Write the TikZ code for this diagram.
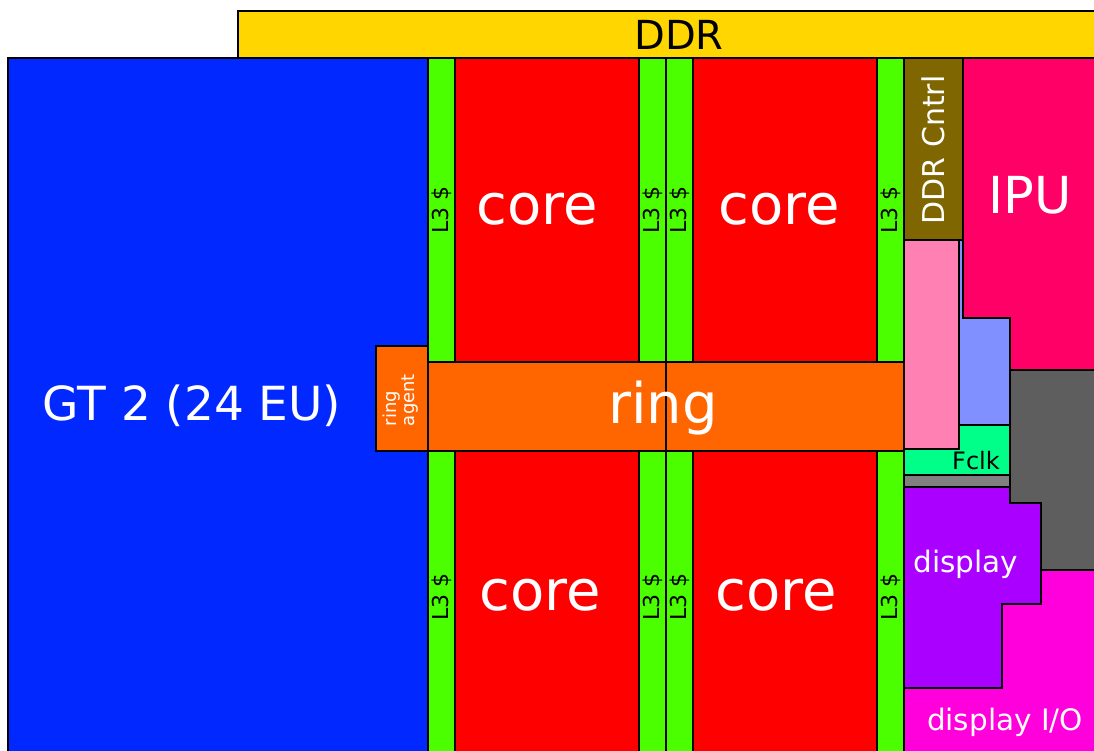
\documentclass[tikz,border=0pt]{standalone}
\usepackage{fontspec}
\setmainfont{DejaVu Sans}
\usepackage{xcolor}
\usepackage{tikz}

\definecolor{gtblue}{RGB}{0,40,255}
\definecolor{lthreegreen}{RGB}{76,255,0}
\definecolor{corered}{RGB}{255,0,0}
\definecolor{ringorange}{RGB}{255,102,0}
\definecolor{ddryellow}{RGB}{255,214,0}
\definecolor{ctrlbrown}{RGB}{128,102,0}
\definecolor{ipured}{RGB}{255,0,102}
\definecolor{pinkblk}{RGB}{255,128,178}
\definecolor{lavblk}{RGB}{128,144,255}
\definecolor{fclkgreen}{RGB}{0,255,136}
\definecolor{midgray}{RGB}{128,128,128}
\definecolor{darkgray}{RGB}{94,94,94}
\definecolor{dispurple}{RGB}{170,0,255}
\definecolor{iomagenta}{RGB}{255,0,221}

\begin{document}
\begin{tikzpicture}[
    x=1pt, y=-1pt,
    %% Die blocks
    blk/.style   = {draw=black, line width=2pt},
    gtblk/.style = {blk, fill=gtblue},
    l3blk/.style = {blk, fill=lthreegreen},
    coreblk/.style = {blk, fill=corered},
    ringblk/.style = {blk, fill=ringorange},
    %% Labels
    lbl/.style   = {inner sep=0pt, text=white},
    bigtxt/.style = {lbl, font=\fontsize{56}{56}\selectfont},
    l3txt/.style = {inner sep=0pt, rotate=90, font=\fontsize{22}{22}\selectfont},
  ]
  \useasboundingbox (0,0) rectangle (1094,751);
  \clip (0,0) rectangle (1094,751);

  %% ── Memory bus and graphics ───────────────────────────────────────────
  \filldraw[blk, fill=ddryellow] (238,11) rectangle (1110,58);
  \filldraw[gtblk] (8,58) rectangle (428,770);

  %% ── L3 slices and cores ───────────────────────────────────────────────
  \filldraw[l3blk] (428,58) rectangle (455,362);
  \filldraw[l3blk] (639,58) rectangle (666,362);
  \filldraw[l3blk] (666,58) rectangle (693,362);
  \filldraw[l3blk] (877,58) rectangle (904,362);
  \filldraw[l3blk] (428,451) rectangle (455,770);
  \filldraw[l3blk] (639,451) rectangle (666,770);
  \filldraw[l3blk] (666,451) rectangle (693,770);
  \filldraw[l3blk] (877,451) rectangle (904,770);

  \filldraw[coreblk] (455,58) rectangle (639,362);
  \filldraw[coreblk] (693,58) rectangle (877,362);
  \filldraw[coreblk] (455,451) rectangle (639,770);
  \filldraw[coreblk] (693,451) rectangle (877,770);

  %% ── Ring ──────────────────────────────────────────────────────────────
  \filldraw[ringblk] (428,362) rectangle (666,451);
  \filldraw[ringblk] (666,362) rectangle (904,451);
  \filldraw[ringblk] (376,346) rectangle (428,451);

  %% ── System agent side ─────────────────────────────────────────────────
  \filldraw[blk, fill=ipured] (963,58) -- (1110,58) -- (1110,370) -- (1010,370)
      -- (1010,318) -- (963,318) -- cycle;
  \filldraw[blk, fill=lavblk] (959,240) -- (963,240) -- (963,318) -- (1010,318)
      -- (1010,425) -- (959,425) -- cycle;
  \filldraw[blk, fill=ctrlbrown] (904,58) rectangle (963,240);
  \filldraw[blk, fill=pinkblk] (904,240) rectangle (959,449);
  \filldraw[blk, fill=fclkgreen] (904,449) -- (959,449) -- (959,425) -- (1010,425)
      -- (1010,475) -- (904,475) -- cycle;
  \filldraw[blk, fill=midgray] (904,475) rectangle (1010,487);
  \filldraw[blk, fill=darkgray] (1010,370) -- (1110,370) -- (1110,570) -- (1041,570)
      -- (1041,503) -- (1010,503) -- cycle;
  \filldraw[blk, fill=dispurple] (904,487) -- (1010,487) -- (1010,503) -- (1041,503)
      -- (1041,604) -- (1002,604) -- (1002,688) -- (904,688) -- cycle;
  \filldraw[blk, fill=iomagenta] (904,688) -- (1002,688) -- (1002,604) -- (1041,604)
      -- (1041,570) -- (1110,570) -- (1110,770) -- (904,770) -- cycle;

  %% ── Labels ────────────────────────────────────────────────────────────
  \node[inner sep=0pt, anchor=base, font=\fontsize{40}{40}\selectfont] (ddr) at (679,50) {DDR};
  \node[lbl, anchor=base, font=\fontsize{47}{47}\selectfont] (gt) at (192,420) {GT 2 (24 EU)};
  \node[bigtxt, anchor=base] (core1) at (537,225) {core};
  \node[bigtxt, anchor=base] (core2) at (779,225) {core};
  \node[bigtxt, anchor=base] (core3) at (540,610) {core};
  \node[bigtxt, anchor=base] (core4) at (776,610) {core};
  \node[bigtxt, anchor=base] (ring) at (663,423) {ring};
  \node[lbl, rotate=90, align=left, font=\fontsize{18}{18}\selectfont] (agent) at (401,400) {ring\\agent};

  \node[l3txt] (l3a) at (441.5,210) {L3 \$};
  \node[l3txt] (l3b) at (652.5,210) {L3 \$};
  \node[l3txt] (l3c) at (679.5,210) {L3 \$};
  \node[l3txt] (l3d) at (890.5,210) {L3 \$};
  \node[l3txt] (l3e) at (441.5,597) {L3 \$};
  \node[l3txt] (l3f) at (652.5,597) {L3 \$};
  \node[l3txt] (l3g) at (679.5,597) {L3 \$};
  \node[l3txt] (l3h) at (890.5,597) {L3 \$};

  \node[lbl, rotate=90, font=\fontsize{30}{30}\selectfont] (ctrl) at (933,150) {DDR Cntrl};
  \node[lbl, anchor=base, font=\fontsize{51}{51}\selectfont] (ipu) at (1030,214) {IPU};
  \node[inner sep=0pt, anchor=base, font=\fontsize{24}{24}\selectfont] (fclk) at (976,469) {Fclk};
  \node[lbl, anchor=base, font=\fontsize{29.5}{29.5}\selectfont] (disp) at (966,572) {display};
  \node[lbl, anchor=base, font=\fontsize{29.5}{29.5}\selectfont] (dispio) at (1005,730) {display I/O};

\end{tikzpicture}
\end{document}
